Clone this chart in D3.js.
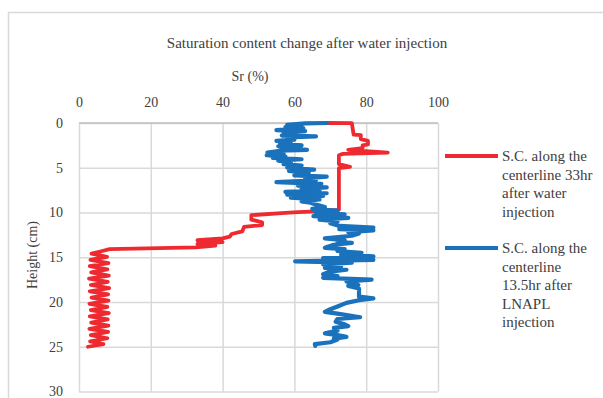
<!DOCTYPE html>
<html>
<head>
<meta charset="utf-8">
<script src="https://cdn.jsdelivr.net/npm/d3@7"></script>
<style>
  body { margin: 0; background: #fff; }
  svg { display: block; font-family: "Liberation Serif", "Times New Roman", serif; }
</style>
</head>
<body>
<svg id="chart" width="603" height="398"></svg>
<script>
const chartTitle = 'Saturation content change after water injection';
const xTitle = 'Sr (%)';
const yTitle = 'Height (cm)';
const xTicks = [0, 20, 40, 60, 80, 100];
const yTicks = [0, 5, 10, 15, 20, 25, 30];

const legendWater = ['S.C. along the', 'centerline 33hr', 'after water', 'injection'];
const legendLnapl = ['S.C. along the', 'centerline', '13.5hr after', 'LNAPL', 'injection'];

// [height cm, Sr %] 33hr after water injection
const waterSeries = [
  [0, 69], [0.02, 76], [1.3, 76.5], [1.35, 78.5], [1.8, 78.5], [2.0, 80.5], [2.4, 80.5],
  [2.5, 79], [2.8, 79], [3.0, 75], [3.3, 86], [3.45, 73.5], [3.6, 72.4], [4.6, 72.4],
  [4.9, 75.5], [5.05, 72.4], [9.7, 72.4], [9.85, 68], [9.95, 61], [10.05, 57.5],
  [10.3, 48], [10.8, 48], [11.1, 51], [11.4, 51], [11.6, 46], [12.1, 45.5], [12.4, 42.5],
  [12.7, 42], [12.9, 40], [13.1, 33], [13.3, 40], [13.5, 33], [13.7, 38], [13.9, 32.5],
  [14.1, 8.5], [14.3, 6.5], [14.6, 3.5], [14.95, 7.8], [15.3, 3.2], [15.65, 8.2],
  [16.0, 3.0], [16.35, 7.9], [16.7, 3.4], [17.05, 8.3], [17.4, 2.8], [17.75, 8.0],
  [18.1, 3.3], [18.45, 8.4], [18.8, 3.0], [19.15, 8.1], [19.5, 3.5], [19.85, 8.2],
  [20.2, 2.9], [20.55, 7.9], [20.9, 3.3], [21.25, 8.3], [21.6, 3.0], [21.95, 8.0],
  [22.3, 3.4], [22.65, 8.2], [23.0, 2.9], [23.35, 8.1], [23.7, 3.3], [24.05, 7.9],
  [24.4, 3.1], [24.7, 6.8], [25.0, 2.5]
];

// [height cm, Sr %] 13.5hr after LNAPL injection
const lnaplSeries = [
  [0, 69], [0.05, 63], [0.2, 58], [0.3, 62], [0.45, 57.5], [0.6, 62.5], [0.8, 55], [0.9, 63],
  [1.1, 57], [1.2, 60], [1.4, 56.5], [1.5, 66], [1.6, 58], [1.85, 60], [2.0, 55], [2.1, 59],
  [2.3, 56], [2.5, 62], [2.6, 55.5], [2.8, 58], [3.0, 63.5], [3.1, 56], [3.3, 52.5],
  [3.45, 57], [3.6, 52.3], [3.75, 57.5], [3.9, 54], [4.05, 62], [4.2, 55.5], [4.4, 59],
  [4.6, 57], [4.75, 62], [5.0, 58], [5.2, 65.5], [5.35, 58.5], [5.6, 64], [5.85, 60],
  [6.0, 69], [6.2, 63], [6.4, 66], [6.6, 55], [6.8, 67.5], [7.0, 61], [7.2, 69], [7.35, 62],
  [7.55, 67], [7.7, 57.5], [7.85, 69], [8.0, 58], [8.15, 68], [8.35, 59], [8.55, 67],
  [8.75, 62], [8.9, 64.5], [9.1, 66], [9.4, 68.5], [9.6, 65], [9.8, 72], [10.0, 66],
  [10.2, 74], [10.4, 65.3], [10.6, 75], [10.8, 67], [11.0, 72], [11.2, 70], [11.5, 72.5],
  [11.7, 82], [11.85, 72.5], [12.0, 82], [12.2, 75], [12.35, 78], [12.6, 76], [12.9, 68.5],
  [13.1, 74], [13.3, 72], [13.4, 76], [13.6, 71], [13.95, 68.5], [14.1, 74], [14.3, 72],
  [14.5, 78.7], [14.7, 73], [14.9, 82], [15.1, 68], [15.3, 82], [15.45, 60.2], [15.6, 76],
  [15.8, 68], [16.0, 73], [16.2, 68.5], [16.4, 74.5], [16.6, 70], [16.9, 68], [17.1, 72],
  [17.3, 68], [17.5, 81.5], [17.7, 74.5], [18.1, 77.8], [18.2, 75], [18.5, 78], [19.4, 78],
  [19.6, 82], [19.8, 78], [20.1, 74.5], [20.5, 72], [20.8, 70], [21.1, 68.5], [21.3, 72],
  [21.5, 75], [21.7, 78.3], [21.9, 72], [22.2, 71.5], [22.5, 74], [22.7, 75], [22.9, 71],
  [23.2, 72], [23.5, 68.5], [23.7, 72], [23.9, 74.5], [24.1, 71], [24.2, 72], [24.5, 70],
  [24.7, 65.7], [24.9, 65.8]
];

const redColor = '#ee2a30';
const blueColor = '#1a72bc';
const serif = '"Liberation Serif", "Times New Roman", serif';

const svg = d3.select('#chart');

// chart frame
svg.append('rect')
  .attr('x', 8.5).attr('y', 12.5)
  .attr('width', 620).attr('height', 400)
  .attr('fill', 'none')
  .attr('stroke', '#d9d9d9')
  .attr('stroke-width', 1.5);

const x = d3.scaleLinear().domain([0, 100]).range([79, 438]);
const y = d3.scaleLinear().domain([0, 30]).range([123, 391.5]);

//
// Grid
//
svg.append('g')
  .attr('transform', `translate(0, ${y(0)})`)
  .call(d3.axisTop(x).tickValues(xTicks).tickSize(-(y(30) - y(0))).tickFormat(() => ''))
  .call((g) => g.select('.domain').remove())
  .call((g) => g.selectAll('line').attr('stroke', '#d9d9d9').attr('stroke-width', 1.5));

svg.append('g')
  .attr('transform', `translate(${x(0)}, 0)`)
  .call(d3.axisLeft(y).tickValues(yTicks).tickSize(-(x(100) - x(0))).tickFormat(() => ''))
  .call((g) => g.select('.domain').remove())
  .call((g) => g.selectAll('line').attr('stroke', '#d9d9d9').attr('stroke-width', 1.5));

// darker top axis line
svg.append('line')
  .attr('x1', x(0)).attr('x2', x(100))
  .attr('y1', y(0)).attr('y2', y(0))
  .attr('stroke', '#bfbfbf')
  .attr('stroke-width', 1.5);

//
// Axis labels
//
svg.append('g')
  .attr('transform', `translate(0, ${y(0)})`)
  .call(d3.axisTop(x).tickValues(xTicks).tickSize(0).tickPadding(16))
  .call((g) => g.select('.domain').remove())
  .call((g) => g.selectAll('text')
    .attr('font-family', serif)
    .attr('font-size', 14).attr('fill', '#404040'));

svg.append('g')
  .attr('transform', `translate(${x(0)}, 0)`)
  .call(d3.axisLeft(y).tickValues(yTicks).tickSize(0).tickPadding(16))
  .call((g) => g.select('.domain').remove())
  .call((g) => g.selectAll('text')
    .attr('font-family', serif)
    .attr('font-size', 14).attr('fill', '#404040'));

svg.append('text')
  .attr('x', 307).attr('y', 48)
  .attr('text-anchor', 'middle')
  .attr('font-family', serif)
  .attr('font-size', 15).attr('fill', '#404040')
  .text(chartTitle);

svg.append('text')
  .attr('x', 250).attr('y', 81)
  .attr('text-anchor', 'middle')
  .attr('font-family', serif)
  .attr('font-size', 14).attr('fill', '#404040')
  .text(xTitle);

svg.append('text')
  .attr('transform', 'translate(37, 255) rotate(-90)')
  .attr('text-anchor', 'middle')
  .attr('font-family', serif)
  .attr('font-size', 14).attr('fill', '#404040')
  .text(yTitle);

//
// Series
//
const line = d3.line()
  .x((d) => x(d[1]))
  .y((d) => y(d[0]));

svg.append('path')
  .datum(waterSeries)
  .attr('fill', 'none')
  .attr('stroke', redColor)
  .attr('stroke-width', 3.8)
  .attr('stroke-linejoin', 'round')
  .attr('stroke-linecap', 'round')
  .attr('d', line);

svg.append('path')
  .datum(lnaplSeries)
  .attr('fill', 'none')
  .attr('stroke', blueColor)
  .attr('stroke-width', 4.2)
  .attr('stroke-linejoin', 'round')
  .attr('stroke-linecap', 'round')
  .attr('d', line);

//
// Legend
//
const legend = [
  { lines: legendWater, color: redColor, y: 156 },
  { lines: legendLnapl, color: blueColor, y: 248 },
];

legend.forEach((item) => {
  svg.append('line')
    .attr('x1', 445).attr('x2', 498)
    .attr('y1', item.y).attr('y2', item.y)
    .attr('stroke', item.color)
    .attr('stroke-width', 3.8);

  svg.append('text')
    .attr('x', 502).attr('y', item.y + 5)
    .attr('font-family', serif)
    .attr('font-size', 15).attr('fill', '#404040')
    .selectAll('tspan')
    .data(item.lines)
    .join('tspan')
    .attr('x', 502)
    .attr('dy', (d, i) => (i === 0 ? 0 : 18.5))
    .text((d) => d);
});
</script>
</body>
</html>
